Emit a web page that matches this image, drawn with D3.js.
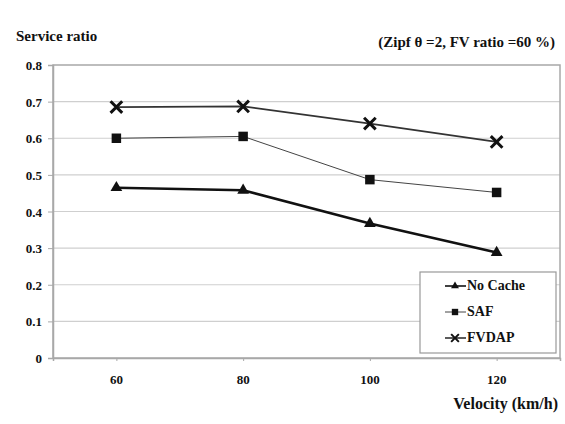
<!DOCTYPE html>
<html>
<head>
<meta charset="utf-8">
<script src="https://cdn.jsdelivr.net/npm/d3@7"></script>
<style>
  body { margin: 0; background: #fff; }
  #chart { position: relative; width: 565px; height: 424px; }
  #chart svg { position: absolute; left: 0; top: 0; }
  .lbl {
    position: absolute;
    font-family: "Liberation Serif", "Times New Roman", serif;
    font-weight: bold;
    color: #111;
    line-height: 1;
    white-space: nowrap;
  }
</style>
</head>
<body>
<div id="chart"></div>
<script>
// data
let velocities = ["60", "80", "100", "120"];
let noCache = [0.465, 0.458, 0.367, 0.288];
let saf = [0.600, 0.605, 0.487, 0.452];
let fvdap = [0.685, 0.687, 0.640, 0.590];
let yTicks = [0, 0.1, 0.2, 0.3, 0.4, 0.5, 0.6, 0.7, 0.8];

let margin = {top: 65, right: 5, bottom: 66, left: 53},
    width = 565 - margin.left - margin.right,
    height = 424 - margin.top - margin.bottom;

let chart = d3.select("#chart");

let svg = chart.append("svg")
    .attr("width", 565)
    .attr("height", 424);

// html labels (serif), anchored by ax/ay in [0..1]
function label(txt, px, py, size, ax, ay) {
    chart.append("div")
        .attr("class", "lbl")
        .style("left", px + "px")
        .style("top", py + "px")
        .style("font-size", size + "px")
        .style("transform", "translate(" + (-ax * 100) + "%," + (-ay * 100) + "%)")
        .text(txt);
}

let g = svg.append("g")
    .attr("transform", "translate(" + margin.left + "," + margin.top + ")");

let x = d3.scalePoint().domain(velocities).range([0, width]).padding(0.5);
let y = d3.scaleLinear().domain([0, 0.8]).range([height, 0]);

// grid lines
g.selectAll(".grid")
    .data(yTicks.slice(1, -1))
    .enter().append("line")
    .attr("x1", 0).attr("x2", width)
    .attr("y1", d => y(d)).attr("y2", d => y(d))
    .style("stroke", "#cfcfcf")
    .style("stroke-width", 1.2);

// plot border
g.append("rect")
    .attr("width", width).attr("height", height)
    .style("fill", "none")
    .style("stroke", "#a8a8a8")
    .style("stroke-width", 1.5);

// y axis (tick labels drawn as html below)
let yAxis = g.append("g")
    .call(d3.axisLeft(y).tickValues(yTicks).tickSize(5).tickFormat(""));
yAxis.select(".domain").style("stroke", "#a8a8a8").style("stroke-width", 1.5);
yAxis.selectAll(".tick line").style("stroke", "#a8a8a8");
yTicks.forEach(function(t) {
    label(t === 0 ? "0" : d3.format(".1f")(t), margin.left - 11, margin.top + y(t), 13, 1, 0.5);
});

// x axis
let xAxis = g.append("g")
    .attr("transform", "translate(0," + height + ")")
    .call(d3.axisBottom(x).tickSize(3).tickFormat(""));
xAxis.select(".domain").style("stroke", "#a8a8a8").style("stroke-width", 1.5);
xAxis.selectAll(".tick line").style("stroke", "#a8a8a8");
velocities.forEach(function(v) {
    label(v, margin.left + x(v), margin.top + height + 21, 13, 0.5, 0.5);
});

let series = [
    {name: "No Cache", values: noCache, symbol: d3.symbolTriangle, size: 60, width: 2.6, stroke: "#111"},
    {name: "SAF", values: saf, symbol: d3.symbolSquare, size: 90, width: 1, stroke: "#444"},
    {name: "FVDAP", values: fvdap, symbol: d3.symbolX, size: 90, width: 1.6, stroke: "#333"}
];

let line = d3.line()
    .x((d, i) => x(velocities[i]))
    .y(d => y(d));

function drawMarker(sel, s, sw) {
    let p = sel.append("path")
        .attr("d", d3.symbol().type(s.symbol).size(s.size));
    if (s.symbol === d3.symbolX) {
        p.style("fill", "none").style("stroke", "#111").style("stroke-width", sw);
    } else {
        p.style("fill", "#111");
    }
}

series.forEach(function(s) {
    g.append("path")
        .datum(s.values)
        .attr("d", line)
        .style("fill", "none")
        .style("stroke", s.stroke)
        .style("stroke-width", s.width);
    s.values.forEach(function(v, i) {
        let m = g.append("g")
            .attr("transform", "translate(" + x(velocities[i]) + "," + y(v) + ")");
        drawMarker(m, s, 3);
    });
});

// legend
let lx = 420, ly = 272;
let legend = svg.append("g").attr("transform", "translate(" + lx + "," + ly + ")");
legend.append("rect")
    .attr("width", 136).attr("height", 81)
    .style("fill", "#fff")
    .style("stroke", "#999")
    .style("stroke-width", 1.2);
series.forEach(function(s, i) {
    let ry = 14 + i * 26;
    let row = legend.append("g").attr("transform", "translate(0," + ry + ")");
    row.append("line")
        .attr("x1", 25).attr("x2", 46)
        .style("stroke", s.stroke)
        .style("stroke-width", Math.min(s.width, 1.6));
    let m = row.append("g").attr("transform", "translate(35,0)");
    drawMarker(m, {symbol: s.symbol, size: s.size * 0.45}, 2);
    label(s.name, lx + 47, ly + ry, 14, 0, 0.5);
});

// titles
label("Service ratio", 16, 36, 15, 0, 0.5);
label("(Zipf θ =2, FV ratio =60 %)", 555, 42, 15, 1, 0.5);
label("Velocity (km/h)", 558, 404, 16, 1, 0.5);
</script>
</body>
</html>
